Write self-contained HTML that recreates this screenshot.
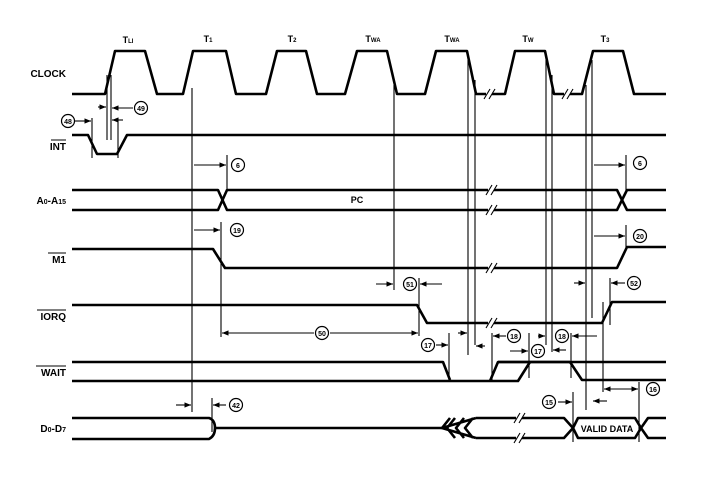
<!DOCTYPE html>
<html><head><meta charset="utf-8"><style>
html,body{margin:0;padding:0;background:#fff}
svg{display:block}
text{font-family:"Liberation Sans",sans-serif;font-weight:bold;fill:#000}
.w{fill:none;stroke:#000;stroke-width:2.6;stroke-linejoin:round}
.t{fill:none;stroke:#000;stroke-width:1.1}
.c{fill:#fff;stroke:#000;stroke-width:1.2}
.n{font-size:7px;text-anchor:middle}
.l{font-size:10px;text-anchor:end}
</style></head><body>
<svg width="708" height="482" viewBox="0 0 708 482" xmlns="http://www.w3.org/2000/svg">
<defs>
<marker id="a" viewBox="0 0 10 10" refX="10" refY="5" markerWidth="6" markerHeight="6" orient="auto-start-reverse"><path d="M0,1 L10,5 L0,9 z" fill="#000"/></marker>
</defs>
<!-- labels -->
<text class="l" x="66" y="77">CLOCK</text>
<text class="l" x="66" y="150">INT</text><line x1="51" y1="140" x2="66" y2="140" stroke="#000" stroke-width="1"/>
<text class="l" x="66" y="204">A<tspan font-size="7">0</tspan>-A<tspan font-size="7">15</tspan></text>
<text class="l" x="66" y="263">M1</text><line x1="48" y1="253" x2="66" y2="253" stroke="#000" stroke-width="1"/>
<text class="l" x="66" y="320">IORQ</text><line x1="37" y1="310" x2="66" y2="310" stroke="#000" stroke-width="1"/>
<text class="l" x="66" y="376">WAIT</text><line x1="36" y1="366" x2="66" y2="366" stroke="#000" stroke-width="1"/>
<text class="l" x="66" y="432">D<tspan font-size="7">0</tspan>-D<tspan font-size="7">7</tspan></text>
<!-- state labels -->
<g font-size="9" text-anchor="middle">
<text x="128" y="43">T<tspan font-size="6">LI</tspan></text>
<text x="208" y="42">T<tspan font-size="6">1</tspan></text>
<text x="292" y="42">T<tspan font-size="6">2</tspan></text>
<text x="373" y="42">T<tspan font-size="6">WA</tspan></text>
<text x="452" y="42">T<tspan font-size="6">WA</tspan></text>
<text x="528" y="42">T<tspan font-size="6">W</tspan></text>
<text x="605" y="42">T<tspan font-size="6">3</tspan></text>
</g>
<!-- CLOCK -->
<polyline class="w" points="72,94 105,94 115,51 145,51 157,94 183,94 193,51 226,51 236,94 266,94 277,51 306,51 317,94 345,94 357,51 387,51 397,94 425,94 436,51 467,51 476,94 486,94"/>
<polyline class="w" points="492,94 505,94 515,51 545,51 554,94 564,94"/>
<polyline class="w" points="570,94 582,94 593,51 623,51 634,94 666,94"/>
<g class="t"><line x1="484" y1="99" x2="490" y2="89"/><line x1="489" y1="99" x2="495" y2="89"/><line x1="562" y1="99" x2="568" y2="89"/><line x1="567" y1="99" x2="573" y2="89"/></g>
<!-- INT -->
<polyline class="w" points="72,135 88,135 97,154 117,154 127,135 666,135"/>
<!-- A0-A15 -->
<polyline class="w" points="72,190 218,190 227,210 488,210"/>
<polyline class="w" points="72,210 218,210 227,190 488,190"/>
<polyline class="w" points="494,190 617,190 627,210 666,210"/>
<polyline class="w" points="494,210 617,210 627,190 666,190"/>
<g class="t"><line x1="486" y1="195" x2="492" y2="185"/><line x1="491" y1="195" x2="497" y2="185"/><line x1="486" y1="215" x2="492" y2="205"/><line x1="491" y1="215" x2="497" y2="205"/></g>
<text x="357" y="203" font-size="9" text-anchor="middle">PC</text>
<!-- M1 -->
<polyline class="w" points="72,249 213,249 225,268 488,268"/>
<polyline class="w" points="494,268 617,268 627,247 666,247"/>
<g class="t"><line x1="486" y1="273" x2="492" y2="263"/><line x1="491" y1="273" x2="497" y2="263"/></g>
<!-- IORQ -->
<polyline class="w" points="72,305 417,305 427,323 488,323"/>
<polyline class="w" points="494,323 602,323 612,302 666,302"/>
<g class="t"><line x1="486" y1="328" x2="492" y2="318"/><line x1="491" y1="328" x2="497" y2="318"/></g>
<!-- WAIT -->
<polyline class="w" points="72,362 443,362 450,380"/>
<polyline class="w" points="72,381 518,381 530,362"/>
<polyline class="w" points="490,381 498,362 570,362"/>
<polyline class="w" points="498,362 666,362"/>
<polyline class="w" points="570,362 582,380 666,380"/>
<!-- D0-D7 -->
<path class="w" d="M72,418 L209,418 Q215,420 215,428 Q215,436 209,439 L72,439"/>
<polyline class="w" points="215,428 442,428"/>
<path class="w" d="M476,418 L442,428 L476,438 M450,418 L442,428 M455,418 L447,428 L455,438 M464,418 L456,428 L464,438 M473,418 L465,428 L473,438 M476,418 L516,418 M522,418 L564,418 L573,428 L564,438 L522,438 M516,438 L476,438"/>
<polyline class="w" points="573,428 578,418 635,418 641,428 635,438 578,438 573,428"/>
<polyline class="w" points="641,428 648,418 666,418"/>
<polyline class="w" points="641,428 648,438 666,438"/>
<g class="t"><line x1="514" y1="423" x2="520" y2="413"/><line x1="519" y1="423" x2="525" y2="413"/><line x1="514" y1="443" x2="520" y2="433"/><line x1="519" y1="443" x2="525" y2="433"/></g>
<text x="607" y="432" font-size="9" text-anchor="middle">VALID DATA</text>
<!-- vertical timing lines -->
<g class="t">
<line x1="192" y1="88" x2="192" y2="412"/>
<line x1="107" y1="75" x2="107" y2="140"/><line x1="111" y1="75" x2="111" y2="140"/>
<line x1="92" y1="118" x2="92" y2="158"/><line x1="118" y1="118" x2="118" y2="158"/>
<line x1="227" y1="155" x2="227" y2="192"/>
<line x1="221" y1="222" x2="221" y2="337"/>
<line x1="394" y1="85" x2="394" y2="290"/>
<line x1="419" y1="278" x2="419" y2="336"/>
<line x1="468" y1="60" x2="468" y2="355"/><line x1="475" y1="80" x2="475" y2="345"/>
<line x1="449" y1="333" x2="449" y2="382"/>
<line x1="492" y1="333" x2="492" y2="380"/>
<line x1="529" y1="333" x2="529" y2="378"/>
<line x1="546" y1="60" x2="546" y2="345"/><line x1="552" y1="75" x2="552" y2="352"/>
<line x1="571" y1="333" x2="571" y2="378"/>
<line x1="586" y1="85" x2="586" y2="410"/><line x1="592" y1="60" x2="592" y2="318"/>
<line x1="626" y1="155" x2="626" y2="192"/>
<line x1="626" y1="225" x2="626" y2="250"/>
<line x1="610" y1="278" x2="610" y2="325"/>
<line x1="603" y1="302" x2="603" y2="392"/>
<line x1="212" y1="398" x2="212" y2="432"/>
<line x1="573" y1="392" x2="573" y2="442"/>
<line x1="639" y1="382" x2="639" y2="442"/>
</g>
<!-- arrows -->
<g class="t" marker-end="url(#a)">
<line x1="75" y1="121" x2="91" y2="121"/>
<line x1="98" y1="107" x2="106" y2="107"/>
<line x1="133" y1="108" x2="112" y2="108"/>
<line x1="123" y1="120" x2="112" y2="120"/>
<line x1="194" y1="165" x2="226" y2="165"/>
<line x1="194" y1="230" x2="220" y2="230"/>
<line x1="376" y1="284" x2="393" y2="284"/>
<line x1="442" y1="284" x2="420" y2="284"/>
<line x1="436" y1="345" x2="448" y2="345"/>
<line x1="458" y1="333" x2="467" y2="333"/>
<line x1="485" y1="346" x2="476" y2="346"/>
<line x1="506" y1="336" x2="493" y2="336"/>
<line x1="510" y1="351" x2="528" y2="351"/>
<line x1="538" y1="336" x2="545" y2="336"/>
<line x1="566" y1="350" x2="553" y2="350"/>
<line x1="597" y1="336" x2="572" y2="336"/>
<line x1="574" y1="283" x2="585" y2="283"/>
<line x1="625" y1="283" x2="611" y2="283"/>
<line x1="594" y1="165" x2="625" y2="165"/>
<line x1="594" y1="236" x2="625" y2="236"/>
<line x1="176" y1="405" x2="191" y2="405"/>
<line x1="226" y1="405" x2="213" y2="405"/>
<line x1="558" y1="402" x2="572" y2="402"/>
<line x1="607" y1="401" x2="593" y2="401"/>
</g>
<g class="t">
<line x1="222" y1="333" x2="314" y2="333" marker-start="url(#a)"/>
<line x1="330" y1="333" x2="418" y2="333" marker-end="url(#a)"/>
<line x1="604" y1="389" x2="638" y2="389" marker-start="url(#a)" marker-end="url(#a)"/>
</g>
<!-- circled numbers -->
<g>
<circle class="c" cx="68" cy="121" r="6.5"/><text class="n" x="68" y="124">48</text>
<circle class="c" cx="141" cy="108" r="6.5"/><text class="n" x="141" y="111">49</text>
<circle class="c" cx="238" cy="165" r="6.5"/><text class="n" x="238" y="168">6</text>
<circle class="c" cx="237" cy="230" r="6.5"/><text class="n" x="237" y="233">19</text>
<circle class="c" cx="322" cy="333" r="6.5"/><text class="n" x="322" y="336">50</text>
<circle class="c" cx="410" cy="284" r="6.5"/><text class="n" x="410" y="287">51</text>
<circle class="c" cx="428" cy="345" r="6.5"/><text class="n" x="428" y="348">17</text>
<circle class="c" cx="514" cy="336" r="6.5"/><text class="n" x="514" y="339">18</text>
<circle class="c" cx="538" cy="351" r="6.5"/><text class="n" x="538" y="354">17</text>
<circle class="c" cx="562" cy="336" r="6.5"/><text class="n" x="562" y="339">18</text>
<circle class="c" cx="634" cy="283" r="6.5"/><text class="n" x="634" y="286">52</text>
<circle class="c" cx="640" cy="163" r="6.5"/><text class="n" x="640" y="166">6</text>
<circle class="c" cx="640" cy="236" r="6.5"/><text class="n" x="640" y="239">20</text>
<circle class="c" cx="236" cy="405" r="6.5"/><text class="n" x="236" y="408">42</text>
<circle class="c" cx="549" cy="402" r="6.5"/><text class="n" x="549" y="405">15</text>
<circle class="c" cx="653" cy="389" r="6.5"/><text class="n" x="653" y="392">16</text>
</g>
</svg>
</body></html>
